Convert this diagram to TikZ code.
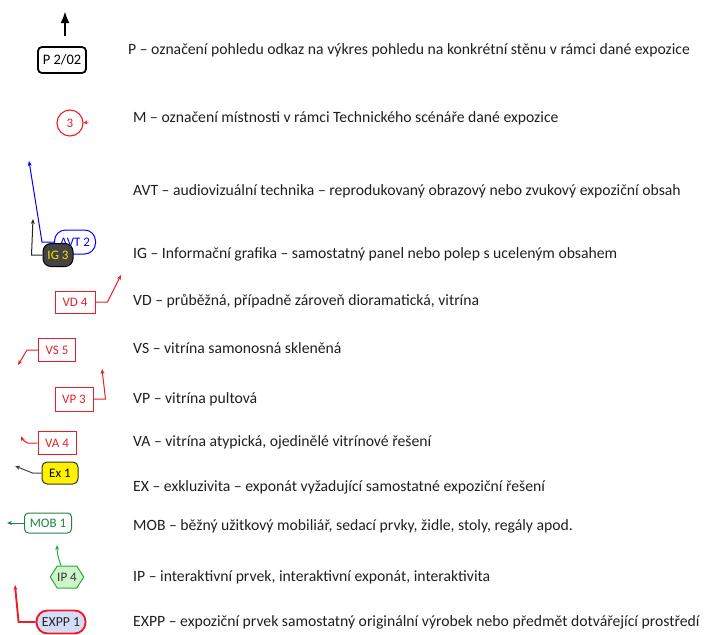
\documentclass[tikz,border=0pt]{standalone}
\usepackage{fontspec}
\setmainfont{Carlito}
\usepackage{xcolor}
\usetikzlibrary{arrows.meta, shapes.symbols, positioning}

\definecolor{tagred}{RGB}{235,30,35}
\definecolor{mobgreen}{RGB}{30,130,70}
\definecolor{ipgreen}{RGB}{40,170,60}
\definecolor{ipfill}{RGB}{205,245,200}
\definecolor{exppfill}{RGB}{212,220,248}
\definecolor{igfill}{RGB}{68,68,68}

\tikzset{
  desc/.style={anchor=west, inner sep=0pt, text=black!88, font=\fontsize{15.7}{18}\selectfont},
  tag/.style={draw, inner sep=0pt, font=\fontsize{13}{15}\selectfont},
  redbox/.style={tag, tagred, text=tagred, line width=1pt},
  lead/.style={line width=1pt, -{Stealth[length=5pt, width=4pt]}},
}

\begin{document}
\begin{tikzpicture}[x=1pt, y=-1pt]
  \useasboundingbox (0,0) rectangle (705,635);

  % P - pohled
  \node[tag, line width=1.8pt, rounded corners=4pt, minimum width=48, minimum height=26,
        font=\fontsize{14.5}{16}\selectfont] (pohled) at (62,60) {P 2/02};
  \coordinate (pohledTail) at (65,36);
  \coordinate (pohledTip) at (65,11);
  \draw[line width=2.6pt, -{Latex[length=12pt, width=9pt]}] (pohledTail) -- (pohledTip);
  \node[desc] (pohledText) at (128,50) {P – označení pohledu odkaz na výkres pohledu na konkrétní stěnu v rámci dané expozice};

  % M - mistnost
  \node[tag, circle, tagred, text=tagred, line width=1.1pt, minimum size=26] (mistnost) at (70,123) {3};
  \coordinate (mistnostMark) at (89,122);
  \draw[tagred, -{Stealth[length=4pt, width=4pt]}] (mistnostMark) -- (mistnost.east);
  \node[desc] (mistnostText) at (133,118) {M – označení místnosti v rámci Technického scénáře dané expozice};

  % AVT + IG
  \node[tag, blue, text=blue, line width=1pt, rounded corners=11pt, minimum width=41, minimum height=24] (avt) at (75,242) {AVT 2};
  \coordinate (avtTip) at (29,161);
  \draw[lead, blue] (avt.west) -- ++(-12,0) -- (avtTip);
  \node[tag, fill=igfill, text=yellow!85!orange, line width=1pt, rounded corners=8pt, minimum width=30, minimum height=23] (ig) at (58,255) {IG 3};
  \coordinate (igTip) at (33,219);
  \draw[lead, black!85] (ig.west) -- ++(-11,0) -- (igTip);
  \node[desc] (avtText) at (133,191) {AVT – audiovizuální technika – reprodukovaný obrazový nebo zvukový expoziční obsah};
  \node[desc] (igText) at (133,254) {IG – Informační grafika – samostatný panel nebo polep s uceleným obsahem};

  % vitriny
  \node[redbox, minimum width=40, minimum height=22] (vd) at (75,302) {VD 4};
  \coordinate (vdTip) at (121,275);
  \draw[lead, tagred] (vd.east) -- ++(12,0) -- (vdTip);
  \node[desc] (vdText) at (133,301) {VD – průběžná, případně zároveň dioramatická, vitrína};

  \node[redbox, minimum width=37, minimum height=23] (vs) at (57,350) {VS 5};
  \coordinate (vsTip) at (18,365);
  \draw[lead, tagred] (vs.west) -- ++(-11,0) -- (vsTip);
  \node[desc] (vsText) at (133,348) {VS – vitrína samonosná skleněná};

  \node[redbox, minimum width=38, minimum height=24] (vp) at (74,399) {VP 3};
  \coordinate (vpTip) at (102,369);
  \draw[lead, tagred] (vp.east) -- ++(12,0) -- (vpTip);
  \node[desc] (vpText) at (133,399) {VP – vitrína pultová};

  \node[redbox, minimum width=38, minimum height=23] (va) at (57,443) {VA 4};
  \coordinate (vaTip) at (21,436);
  \draw[lead, tagred] (va.west) -- ++(-10,0) to[bend left=20] (vaTip);
  \node[desc] (vaText) at (133,442) {VA – vitrína atypická, ojedinělé vitrínové řešení};

  % EX
  \node[tag, fill=yellow, draw=black!80, line width=1pt, rounded corners=5pt, minimum width=36, minimum height=22] (ex) at (60,473) {Ex 1};
  \coordinate (exTip) at (15,466);
  \draw[lead, black!75] (ex.west) -- ++(-9,0) -- (exTip);
  \node[desc] (exText) at (133,487) {EX – exkluzivita – exponát vyžadující samostatné expoziční řešení};

  % MOB
  \node[tag, mobgreen, text=mobgreen, line width=1pt, rounded corners=4pt, minimum width=47, minimum height=20] (mob) at (48,523) {MOB 1};
  \coordinate (mobTip) at (7,523);
  \draw[lead, mobgreen] (mob.west) -- (mobTip);
  \node[desc] (mobText) at (133,526) {MOB – běžný užitkový mobiliář, sedací prvky, židle, stoly, regály apod.};

  % IP
  \node[tag, signal, signal to=west and east, signal pointer angle=115, draw=ipgreen, fill=ipfill,
        text=black!80, line width=1pt, minimum width=33, minimum height=22] (ip) at (67,577) {IP 4};
  \coordinate (ipTip) at (57,545);
  \draw[lead, ipgreen] ([xshift=-6pt]ip.north) to[bend left=10] (ipTip);
  \node[desc] (ipText) at (133,577) {IP – interaktivní prvek, interaktivní exponát, interaktivita};

  % EXPP
  \node[tag, fill=exppfill, draw=tagred, text=black!85, line width=1.9pt, rounded corners=11pt,
        minimum width=49, minimum height=23, font=\fontsize{13.8}{15}\selectfont] (expp) at (61,622) {EXPP 1};
  \coordinate (exppTip) at (15,585);
  \draw[lead, tagred, line width=1.9pt] (expp.west) -- ++(-17,0) -- (exppTip);
  \node[desc] (exppText) at (133,622) {EXPP – expoziční prvek samostatný originální výrobek nebo předmět dotvářející prostředí};
\end{tikzpicture}
\end{document}
